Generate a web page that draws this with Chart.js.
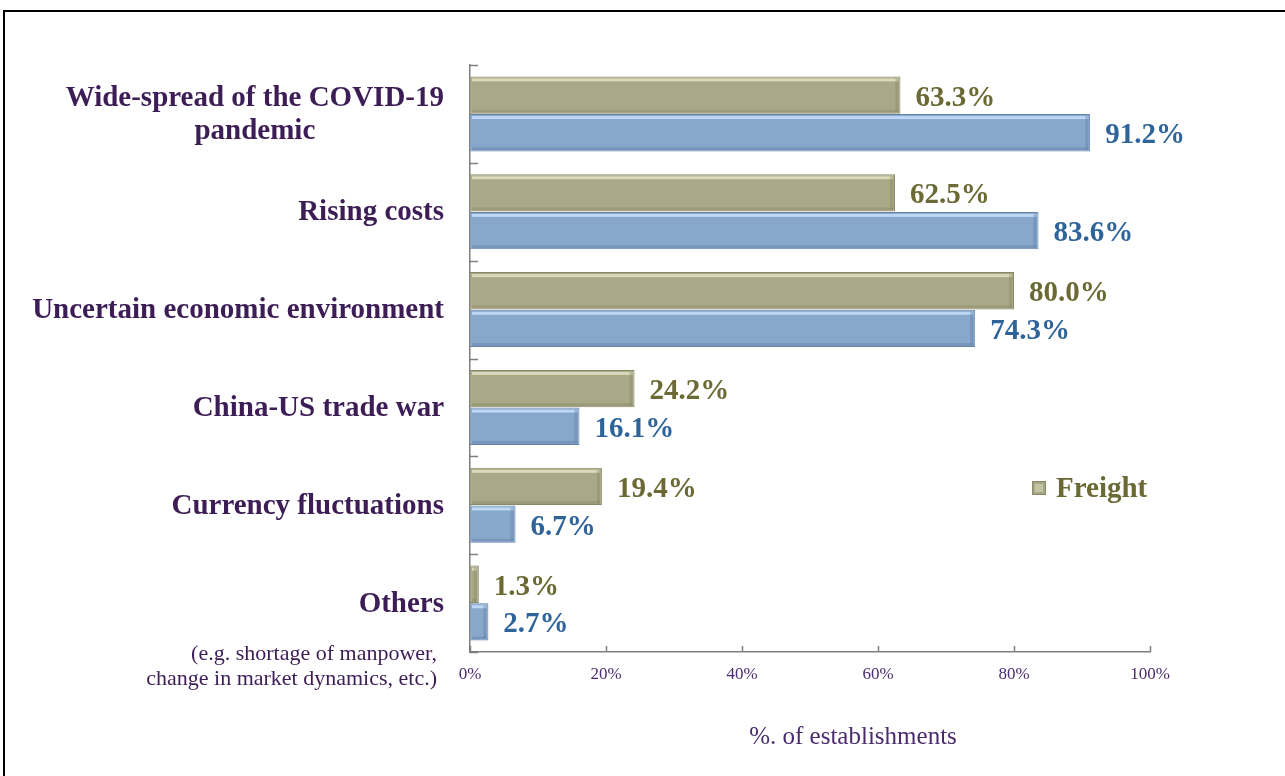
<!DOCTYPE html>
<html>
<head>
<meta charset="utf-8">
<script src="https://cdn.jsdelivr.net/npm/chart.js@4"></script>
<style>
  html, body { margin: 0; padding: 0; background: #fff; }
  #frame { position: absolute; left: 3px; top: 10px; width: 1300px; height: 800px;
           border-left: 2px solid #000; border-top: 2px solid #000; }
  #wrap { position: absolute; left: 0; top: 0; width: 1285px; height: 776px; }
</style>
</head>
<body>
<div id="frame"></div>
<div id="wrap"><canvas id="chart"></canvas></div>
<script>
const categories = [
  ["Wide-spread of the COVID-19", "pandemic"],
  ["Rising costs"],
  ["Uncertain economic environment"],
  ["China-US trade war"],
  ["Currency fluctuations"],
  ["Others"]
];
const othersNote = ["(e.g. shortage of manpower,", "change in market dynamics, etc.)"];
const freight = [63.3, 62.5, 80.0, 24.2, 19.4, 1.3];
const overall = [91.2, 83.6, 74.3, 16.1, 6.7, 2.7];
const xTicks = [0, 20, 40, 60, 80, 100];
const xTitle = "%. of establishments";

const serif = "'Liberation Serif', 'Times New Roman', serif";
const purple = "#3d1d55";
const lightPurple = "#4b2b6e";
const olive = "#6b6a34";
const blue = "#2f649b";

const drawExtras = {
  id: "drawExtras",
  afterDatasetsDraw(chart) {
    const ctx = chart.ctx;
    // bevel highlights on bars
    chart.data.datasets.forEach((ds, di) => {
      chart.getDatasetMeta(di).data.forEach(bar => {
        const top = bar.y - bar.height / 2;
        const bot = bar.y + bar.height / 2;
        const l = bar.base, r = bar.x;
        ctx.save();
        ctx.fillStyle = ds.highlight;
        ctx.fillRect(l + 2, top + 2, Math.max(r - l - 4, 0), 3);
        ctx.fillStyle = ds.shade;
        ctx.fillRect(l + 2, bot - 4, Math.max(r - l - 4, 0), 3);
        ctx.fillRect(r - 5, top + 2, 3, bot - top - 4);
        ctx.restore();
      });
    });
  },
  afterDraw(chart) {
    const ctx = chart.ctx;
    const xs = chart.scales.x, ys = chart.scales.y;
    ctx.save();
    // tick marks (inward)
    ctx.strokeStyle = "#7f7f7f";
    ctx.lineWidth = 1.5;
    const n = categories.length;
    for (let i = 0; i <= n; i++) {
      const y = Math.round(ys.top + i * (ys.bottom - ys.top) / n) + 0.5;
      ctx.beginPath(); ctx.moveTo(xs.left, y); ctx.lineTo(xs.left + 8, y); ctx.stroke();
    }
    xTicks.forEach(v => {
      const x = Math.round(xs.getPixelForValue(v)) + 0.5;
      ctx.beginPath(); ctx.moveTo(x, ys.bottom); ctx.lineTo(x, ys.bottom - 6); ctx.stroke();
    });

    // category labels
    ctx.fillStyle = purple;
    ctx.font = "bold 29px " + serif;
    ctx.textBaseline = "middle";
    categories.forEach((lines, i) => {
      const cy = ys.getPixelForValue(i) + 1;
      const w = Math.max(...lines.map(t => ctx.measureText(t).width));
      const cx = 444 - w / 2;
      ctx.textAlign = "center";
      lines.forEach((t, k) => {
        ctx.fillText(t, cx, cy + (k - (lines.length - 1) / 2) * 33);
      });
    });
    ctx.font = "22px " + serif;
    ctx.textAlign = "right";
    const oy = ys.getPixelForValue(n - 1);
    othersNote.forEach((t, k) => ctx.fillText(t, 437, oy + 51 + k * 25));

    // axis title
    ctx.fillStyle = lightPurple;
    ctx.font = "25px " + serif;
    ctx.textAlign = "center";
    ctx.fillText(xTitle, 853, 737);

    // value labels
    ctx.font = "bold 29px " + serif;
    ctx.textAlign = "left";
    chart.data.datasets.forEach((ds, di) => {
      ctx.fillStyle = ds.labelColor;
      chart.getDatasetMeta(di).data.forEach((bar, j) => {
        ctx.fillText(ds.data[j].toFixed(1) + "%", bar.x + 15, bar.y + 3);
      });
    });

    // legend
    const lx = 1032, ly = 488;
    ctx.fillStyle = "#a8a785";
    ctx.fillRect(lx, ly - 7, 14, 14);
    ctx.strokeStyle = "#8a8967";
    ctx.lineWidth = 1;
    ctx.strokeRect(lx + 0.5, ly - 6.5, 13, 13);
    ctx.fillStyle = "#c4c3a2";
    ctx.fillRect(lx + 3, ly - 4, 8, 8);
    ctx.fillStyle = olive;
    ctx.fillText("Freight", lx + 24, ly + 2);
    ctx.restore();
  }
};

new Chart(document.getElementById("chart"), {
  type: "bar",
  data: {
    labels: categories,
    datasets: [
      {
        label: "Freight",
        data: freight,
        backgroundColor: "#a9a887",
        borderColor: "#8a8967",
        borderWidth: 1,
        highlight: "rgba(230,229,200,0.8)",
        shade: "rgba(130,129,95,0.35)",
        labelColor: olive
      },
      {
        label: "Overall",
        data: overall,
        backgroundColor: "#87a7cb",
        borderColor: "#6685a8",
        borderWidth: 1,
        highlight: "rgba(200,225,250,0.85)",
        shade: "rgba(90,120,160,0.35)",
        labelColor: blue
      }
    ]
  },
  options: {
    indexAxis: "y",
    responsive: true,
    maintainAspectRatio: false,
    animation: false,
    categoryPercentage: 0.77,
    barPercentage: 0.99,
    layout: { padding: { top: 65, right: 135, left: 0, bottom: 0 } },
    plugins: { legend: { display: false }, tooltip: { enabled: false } },
    scales: {
      x: {
        min: 0, max: 100,
        afterBuildTicks: s => { s.ticks = xTicks.map(v => ({ value: v })); },
        afterFit: s => { s.height = 124; },
        grid: { display: false, drawTicks: false },
        border: { display: true, color: "#7f7f7f", width: 1.5 },
        ticks: {
          callback: v => v + "%",
          color: lightPurple,
          font: { family: serif, size: 17 },
          padding: 12
        }
      },
      y: {
        offset: true,
        afterFit: s => { s.width = 470; },
        grid: { display: false, drawTicks: false },
        border: { display: true, color: "#7f7f7f", width: 1.5 },
        ticks: { display: false }
      }
    }
  },
  plugins: [drawExtras]
});
</script>
</body>
</html>
